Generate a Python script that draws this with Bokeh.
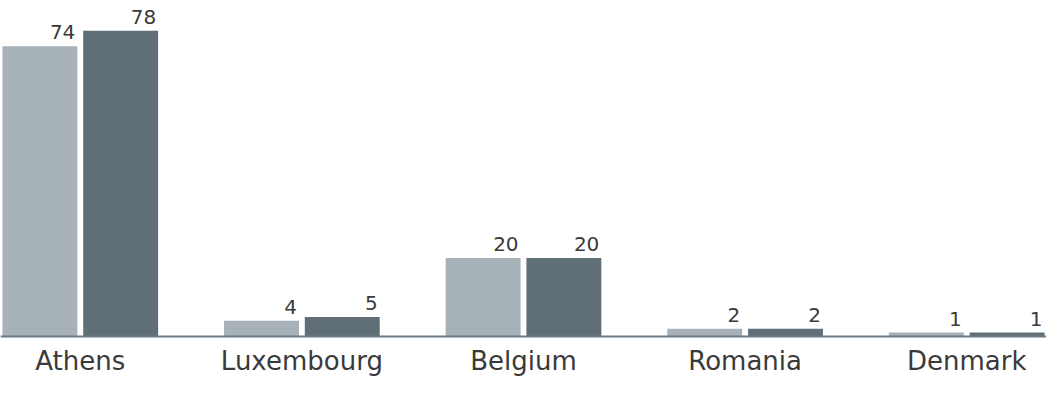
from bokeh.plotting import figure
from bokeh.models import ColumnDataSource, FactorRange, Range1d, LabelSet, Span
from bokeh.transform import dodge
from bokeh.core.properties import value
from bokeh.embed import file_html
from bokeh.resources import INLINE

categories = ["Athens", "Luxembourg", "Belgium", "Romania", "Denmark"]
series_a = [74, 4, 20, 2, 1]
series_b = [78, 5, 20, 2, 1]

LIGHT = "#a6b1b8"
DARK = "#606e78"
TEXT = "#3a3a3a"
FONT = value("DejaVu Sans")

src = ColumnDataSource(dict(cat=categories, a=series_a, b=series_b,
                            la=[str(v) for v in series_a],
                            lb=[str(v) for v in series_b],
                            zero=[0] * len(categories)))

x_range = FactorRange(factors=categories, range_padding=-0.140,
                      range_padding_units="absolute")
p = figure(width=1046, height=377, x_range=x_range, y_range=Range1d(-10.46, 85.7),
           output_backend="svg", toolbar_location=None, min_border=0,
           outline_line_color=None, background_fill_color="white",
           border_fill_color="white")
p.xaxis.visible = False
p.yaxis.visible = False
p.xgrid.grid_line_color = None
p.ygrid.grid_line_color = None

off = 0.1822
w = 0.338
p.vbar(x=dodge("cat", -off, range=p.x_range), top="a", width=w, source=src,
       color=LIGHT, line_color=None)
p.vbar(x=dodge("cat", off, range=p.x_range), top="b", width=w, source=src,
       color=DARK, line_color=None)

p.add_layout(Span(location=0, dimension="width", line_color="#6b7a84",
                  line_width=2))

for key, ycol, dx in (("la", "a", -off + w / 2), ("lb", "b", off + w / 2)):
    p.add_layout(LabelSet(x=dodge("cat", dx, range=p.x_range), y=ycol, text=key,
                          source=src, text_align="right",
                          text_baseline="alphabetic",
                          x_offset=-2, y_offset=7, text_font=FONT,
                          text_font_size="20px", text_color=TEXT))

p.add_layout(LabelSet(x="cat", y="zero", text="cat", source=src,
                      text_align="center", text_baseline="alphabetic",
                      y_offset=-34, text_font=FONT, text_font_size="26px",
                      text_color=TEXT))

open("out.html", "w").write(file_html(p, INLINE))
